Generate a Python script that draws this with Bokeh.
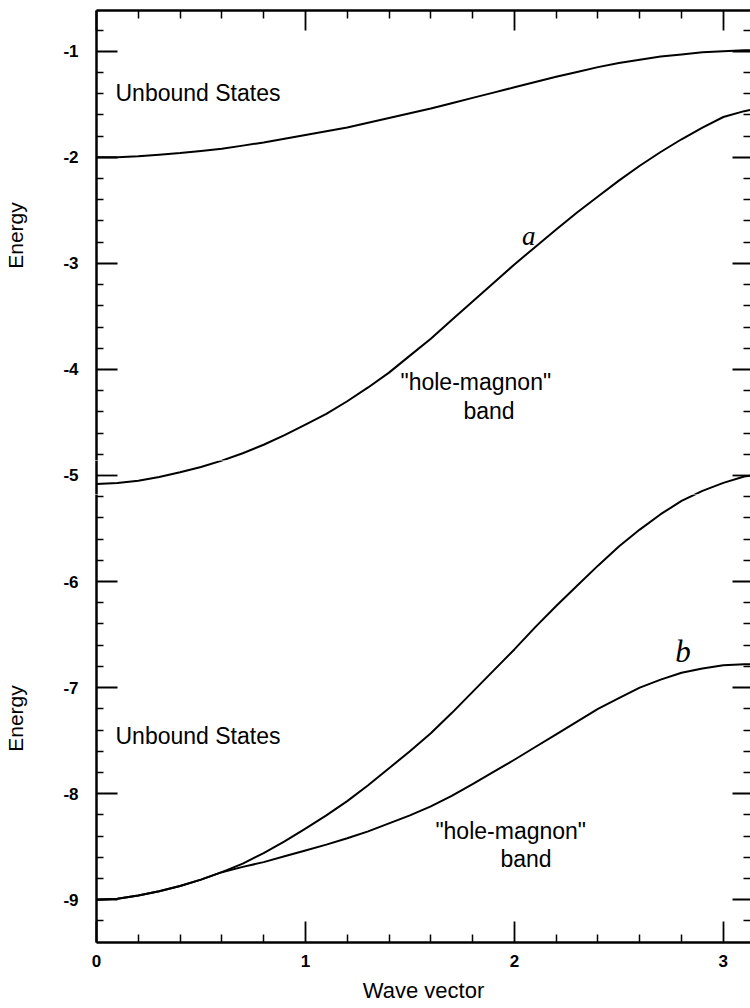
from bokeh.plotting import figure
from bokeh.layouts import column
from bokeh.models import Range1d, LinearAxis, FixedTicker
from bokeh.core.properties import value
from bokeh.embed import file_html
from bokeh.resources import INLINE

# ---- data ----
k = [0.0, 0.1, 0.2, 0.3, 0.4, 0.5, 0.6, 0.7, 0.8, 0.9, 1.0, 1.1, 1.2, 1.3, 1.4, 1.5, 1.6,
     1.7, 1.8, 1.9, 2.0, 2.1, 2.2, 2.3, 2.4, 2.5, 2.6, 2.7, 2.8, 2.9, 3.0, 3.1, 3.1416]
upper_continuum = [-2.00, -2.00, -1.99, -1.975, -1.96, -1.94, -1.92, -1.89, -1.86, -1.825,
                   -1.79, -1.755, -1.72, -1.675, -1.63, -1.585, -1.54, -1.49, -1.44, -1.39,
                   -1.34, -1.29, -1.24, -1.195, -1.15, -1.11, -1.08, -1.05, -1.03, -1.01,
                   -1.00, -0.99, -0.99]
band_a = [-5.08, -5.07, -5.05, -5.015, -4.97, -4.92, -4.86, -4.79, -4.71, -4.62,
          -4.52, -4.42, -4.30, -4.17, -4.03, -3.87, -3.71, -3.535, -3.36, -3.185,
          -3.01, -2.845, -2.68, -2.52, -2.37, -2.22, -2.08, -1.95, -1.83, -1.72,
          -1.62, -1.565, -1.55]
lower_continuum = [-9.00, -8.99, -8.96, -8.92, -8.87, -8.81, -8.74, -8.66, -8.56, -8.45,
                   -8.33, -8.205, -8.07, -7.92, -7.76, -7.60, -7.43, -7.24, -7.04, -6.84,
                   -6.64, -6.43, -6.23, -6.04, -5.85, -5.67, -5.51, -5.365, -5.24, -5.145,
                   -5.07, -5.01, -5.00]
band_b = [-9.00, -8.99, -8.96, -8.92, -8.87, -8.81, -8.74, -8.69, -8.645, -8.59,
          -8.535, -8.48, -8.42, -8.355, -8.28, -8.205, -8.12, -8.02, -7.91, -7.795,
          -7.68, -7.56, -7.44, -7.32, -7.20, -7.10, -7.00, -6.925, -6.86, -6.82,
          -6.79, -6.78, -6.78]

x_major = [0, 1, 2, 3]
x_minor = [0.2, 0.4, 0.6, 0.8, 1.2, 1.4, 1.6, 1.8, 2.2, 2.4, 2.6, 2.8]
y_major_top = [-4, -3, -2, -1]
y_minor_top = [-4.8, -4.6, -4.4, -4.2, -3.8, -3.6, -3.4, -3.2, -2.8, -2.6, -2.4, -2.2,
               -1.8, -1.6, -1.4, -1.2, -0.8]
y_major_mid = [-5]
y_major_bot = [-9, -8, -7, -6]
y_minor_bot = [-9.2, -8.8, -8.6, -8.4, -8.2, -7.8, -7.6, -7.4, -7.2, -6.8, -6.6, -6.4,
               -6.2, -5.8, -5.6, -5.4, -5.2]

FONT = "Liberation Sans"
X_END = 3.13
Y_TOP, Y_BOT = -0.616, -9.403
FRAME_H = [450, 34, 448]          # upper / middle strip / lower, in pixels
PX_PER_UNIT = sum(FRAME_H) / (Y_TOP - Y_BOT)
Y_S1 = Y_TOP - FRAME_H[0] / PX_PER_UNIT
Y_S2 = Y_S1 - FRAME_H[1] / PX_PER_UNIT


def base_fig(y0, y1, frame_h, top_border, bottom_border):
    f = figure(frame_width=654, frame_height=frame_h,
               x_range=Range1d(0, X_END), y_range=Range1d(y0, y1),
               output_backend="svg", toolbar_location=None,
               x_axis_location=None, y_axis_location=None,
               min_border_left=96, min_border_right=0,
               min_border_top=top_border, min_border_bottom=bottom_border)
    f.grid.visible = False
    f.outline_line_color = None
    f.background_fill_color = "white"
    f.border_fill_color = "white"
    for ys in (upper_continuum, band_a, lower_continuum, band_b):
        f.line(k, ys, line_color="black", line_width=2, line_join="round")
    return f


def label_axis(ticks, minors, standoff):
    ax = LinearAxis(ticker=FixedTicker(ticks=ticks, minor_ticks=minors))
    ax.major_tick_in = 21
    ax.major_tick_out = 0
    ax.minor_tick_in = 7
    ax.minor_tick_out = 0
    ax.major_tick_line_width = 1.8
    ax.minor_tick_line_width = 1.5
    ax.axis_line_width = 2.5
    ax.major_label_standoff = standoff
    ax.major_label_text_font = FONT
    ax.major_label_text_font_size = "17px"
    ax.major_label_text_font_style = "bold"
    ax.major_label_text_color = "black"
    ax.major_label_overrides = {t: str(t) for t in ticks}
    return ax


def titled(ax, text, standoff, size):
    ax.axis_label = text
    ax.axis_label_standoff = standoff
    ax.axis_label_text_font = FONT
    ax.axis_label_text_font_size = size
    ax.axis_label_text_font_style = "normal"
    ax.axis_label_text_color = "black"
    return ax


def tick_only_axis(positions, length, line):
    # unlabelled ticks: every mark is drawn as a "minor" tick
    ax = LinearAxis(ticker=FixedTicker(ticks=[], minor_ticks=positions))
    ax.major_tick_in = 0
    ax.major_tick_out = 0
    ax.minor_tick_in = length
    ax.minor_tick_out = 0
    ax.minor_tick_line_width = 1.8 if length > 10 else 1.5
    ax.major_label_standoff = 0
    ax.axis_line_width = 2.5
    ax.axis_line_color = "black" if line else None
    return ax


# ---------- upper panel ----------
p1 = base_fig(Y_S1, Y_TOP, FRAME_H[0], 10, 0)
p1.add_layout(titled(label_axis(y_major_top, y_minor_top, 18), "Energy", 33, "21px"), "left")
p1.add_layout(tick_only_axis(x_minor, 8, True), "above")
p1.add_layout(tick_only_axis(x_major, 20, False), "above")
p1.add_layout(tick_only_axis(y_minor_top, 7, False), "right")
p1.add_layout(tick_only_axis(y_major_top, 18, False), "right")

txt1_x = [0.091, 1.455, 1.756]
txt1_y = [-1.39, -4.12, -4.39]
txt1 = ["Unbound States", '"hole-magnon"', "band"]
p1.text(txt1_x, txt1_y, text=txt1, text_font=value(FONT), text_font_size="23px",
        text_color="black", text_align="left", text_baseline="alphabetic")
p1.text([2.037], [-2.74], text=["a"], text_font=value("Liberation Serif"),
        text_font_size="27px", text_font_style="italic", text_color="black",
        text_align="left", text_baseline="alphabetic")

# ---------- middle strip (holds the -5 tick) ----------
p_mid = base_fig(Y_S2, Y_S1, FRAME_H[1], 0, 0)
p_mid.add_layout(label_axis(y_major_mid, [], 18), "left")
p_mid.add_layout(tick_only_axis(y_major_mid, 18, False), "right")

# ---------- lower panel ----------
p2 = base_fig(Y_BOT, Y_S2, FRAME_H[2], 0, 0)
p2.add_layout(titled(label_axis(y_major_bot, y_minor_bot, 18), "Energy", 33, "21px"), "left")
bax = titled(label_axis(x_major, x_minor, 12), "Wave vector", 8, "22px")
bax.minor_tick_in = 8
p2.add_layout(bax, "below")
p2.add_layout(tick_only_axis(y_minor_bot, 7, False), "right")
p2.add_layout(tick_only_axis(y_major_bot, 18, False), "right")

txt2_x = [0.091, 1.622, 1.933]
txt2_y = [-7.456, -8.35, -8.615]
txt2 = ["Unbound States", '"hole-magnon"', "band"]
p2.text(txt2_x, txt2_y, text=txt2, text_font=value(FONT), text_font_size="23px",
        text_color="black", text_align="left", text_baseline="alphabetic")
p2.text([2.77], [-6.655], text=["b"], text_font=value("Liberation Serif"),
        text_font_size="31px", text_font_style="italic", text_color="black",
        text_align="left", text_baseline="alphabetic")

layout = column(p1, p_mid, p2, spacing=0)
open("out.html", "w").write(file_html(layout, INLINE))
